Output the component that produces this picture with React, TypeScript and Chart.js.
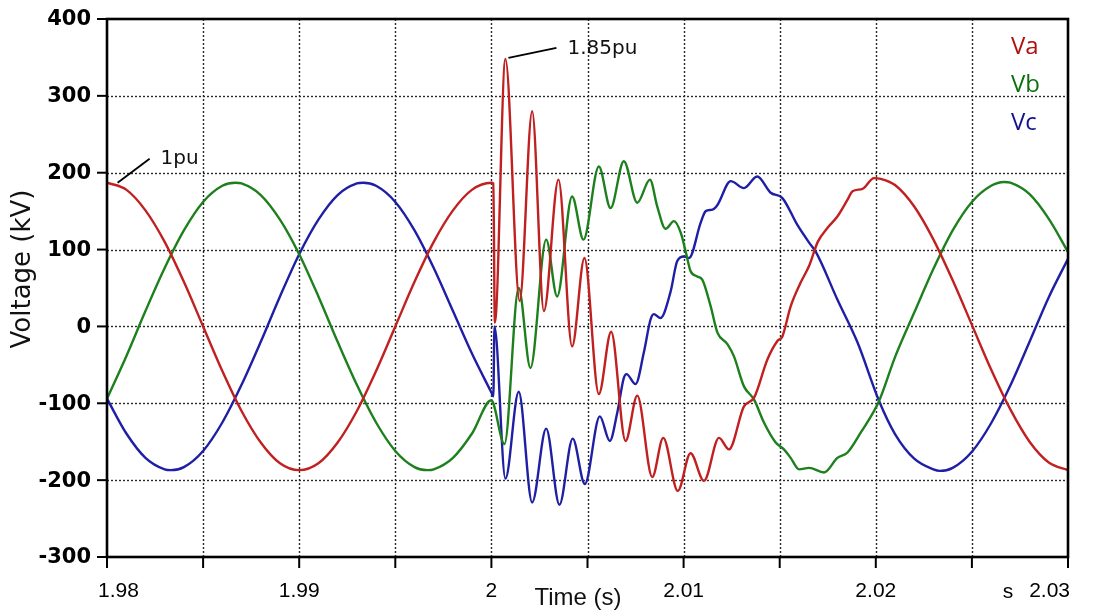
import React, { useEffect, useRef } from 'react';
import { Chart, registerables } from 'chart.js';

Chart.register(...registerables);

// Phase A voltage (kV) against time (s)
const vaTime = [
  1.98, 1.981, 1.982, 1.983, 1.984, 1.985, 1.986, 1.987, 1.988, 1.989, 1.99,
  1.991, 1.992, 1.993, 1.994, 1.995, 1.996, 1.997, 1.998, 1.999, 2.0, 2.0001,
  2.00018, 2.00073, 2.00147, 2.00212, 2.00273, 2.00349, 2.0042, 2.00484, 2.00559,
  2.00623, 2.00698, 2.00759, 2.00837, 2.00894, 2.0097, 2.01036, 2.01106, 2.01184,
  2.01236, 2.01314, 2.01366, 2.01436, 2.01488, 2.01514, 2.01557, 2.01609, 2.01655,
  2.01698, 2.01748, 2.018, 2.01853, 2.01879, 2.01931, 2.01991, 2.02026, 2.021,
  2.022, 2.023, 2.024, 2.025, 2.026, 2.027, 2.028, 2.029, 2.03,
];
const vaKv = [
  187, 178, 151, 110, 58, 0, -58, -110, -151, -178, -187,
  -178, -151, -110, -58, 0, 58, 110, 151, 178, 187, 186,
  5, 348, 33, 280, 20, 191, -26, 89, -88,
  -7, -149, -90, -196, -145, -214, -165, -201, -145,
  -160, -104, -93, -43, -19, -13, 26, 57, 80,
  110, 128, 143, 165, 176, 179, 193, 192, 184,
  156, 113, 60, 2, -56, -108, -150, -177, -187,
];

// Phase B voltage (kV) against time (s)
const vbTime = [
  1.98, 1.981, 1.982, 1.983, 1.984, 1.985, 1.986, 1.98667, 1.987, 1.988, 1.989,
  1.99, 1.991, 1.992, 1.993, 1.994, 1.995, 1.996, 1.99667, 1.997, 1.998, 1.999,
  2.0, 2.0001, 2.00068, 2.00142, 2.00203, 2.00285, 2.00342, 2.0042, 2.00479,
  2.00559, 2.0062, 2.00689, 2.00759, 2.00825, 2.00863, 2.00906, 2.0095, 2.00985,
  2.01013, 2.01036, 2.01071, 2.01097, 2.01141, 2.01176, 2.01228, 2.01262, 2.01314,
  2.01366, 2.01418, 2.01479, 2.01522, 2.01557, 2.01601, 2.01653, 2.01731, 2.018,
  2.01853, 2.01922, 2.02017, 2.021, 2.022, 2.023, 2.024, 2.025, 2.026, 2.02667,
  2.027, 2.028, 2.029, 2.03,
];
const vbKv = [
  -94, -39, 20, 76, 125, 162, 183, 187, 186, 171, 139,
  94, 39, -20, -76, -125, -162, -183, -187, -186, -171, -139,
  -96, -100, -153, 50, -54, 113, 39, 169, 113,
  208, 154, 215, 161, 191, 156, 127, 137, 122,
  95, 72, 65, 61, 26, -8, -23, -39, -78,
  -95, -125, -151, -160, -171, -186, -184, -190, -171,
  -164, -138, -97, -40, 18, 75, 125, 162, 183, 188,
  187, 172, 140, 97,
];

// Phase C voltage (kV) against time (s)
const vcTime = [
  1.98, 1.981, 1.982, 1.983, 1.98333, 1.984, 1.985, 1.986, 1.987, 1.988, 1.989,
  1.99, 1.991, 1.992, 1.993, 1.99333, 1.994, 1.995, 1.996, 1.997, 1.998, 1.999,
  2.0, 2.0001, 2.00016, 2.00073, 2.00142, 2.00212, 2.00285, 2.00354, 2.00423,
  2.00486, 2.00564, 2.00616, 2.00655, 2.00689, 2.00703, 2.0075, 2.00793, 2.00828,
  2.00845, 2.0088, 2.00932, 2.00967, 2.01002, 2.01028, 2.01089, 2.01115, 2.0115,
  2.01176, 2.01245, 2.01314, 2.01383, 2.01453, 2.01514, 2.01592, 2.01653, 2.01688,
  2.018, 2.01905, 2.02017, 2.021, 2.022, 2.023, 2.02333, 2.024, 2.025, 2.026,
  2.027, 2.028, 2.029, 2.03,
];
const vcKv = [
  -94, -139, -171, -186, -187, -183, -162, -125, -76, -20, 39,
  94, 139, 171, 186, 187, 183, 162, 125, 76, 20, -36,
  -86, -91, 0, -198, -85, -229, -133, -232, -146,
  -205, -117, -149, -112, -67, -62, -75, -34, 9,
  16, 11, 45, 85, 91, 89, 135, 150, 152,
  158, 189, 180, 195, 174, 167, 132, 109, 97,
  35, -21, -97, -140, -172, -186, -188, -184, -163, -126,
  -77, -20, 38, 88,
];

const seriesNames = ['Va', 'Vb', 'Vc'];
const lineColors = ['#c02020', '#1d801d', '#1f1fa6'];
const legendColors = ['#b00f0f', '#0e6f0e', '#12128f'];

const xTicks = [1.98, 1.985, 1.99, 1.995, 2.0, 2.005, 2.01, 2.015, 2.02, 2.025, 2.03];
const xTickLabels = ['1.98', '', '1.99', '', '2', '', '2.01', '', '2.02', '', '2.03'];
const yTicks = [-300, -200, -100, 0, 100, 200, 300, 400];

// peak markers: [time, kV, text]
const peakNotes: [number, number, string][] = [
  [1.9805, 187, '1pu'],
  [2.00073, 348, '1.85pu'],
];

const W = 1101;
const H = 611;

const framePlugin = {
  id: 'frame',
  beforeDatasetsDraw(chart: any) {
    const { ctx, chartArea: a, scales } = chart;
    const xs = scales.x;
    const ys = scales.y;
    ctx.save();
    ctx.strokeStyle = '#2a2a2a';
    ctx.lineWidth = 1.4;
    ctx.setLineDash([2, 2]);
    xTicks.slice(1, -1).forEach((v) => {
      const px = Math.round(xs.getPixelForValue(v)) + 0.5;
      ctx.beginPath();
      ctx.moveTo(px, a.top);
      ctx.lineTo(px, a.bottom);
      ctx.stroke();
    });
    yTicks.slice(1, -1).forEach((v) => {
      const py = Math.round(ys.getPixelForValue(v)) + 0.5;
      ctx.beginPath();
      ctx.moveTo(a.left, py);
      ctx.lineTo(a.right, py);
      ctx.stroke();
    });
    ctx.restore();
  },
  afterDatasetsDraw(chart: any) {
    const { ctx, chartArea: a, scales } = chart;
    const xs = scales.x;
    const ys = scales.y;
    ctx.save();
    ctx.setLineDash([]);
    ctx.strokeStyle = '#000';
    // tick marks
    ctx.lineWidth = 2;
    yTicks.forEach((v) => {
      const py = ys.getPixelForValue(v);
      ctx.beginPath();
      ctx.moveTo(a.left - 10, py);
      ctx.lineTo(a.left, py);
      ctx.stroke();
    });
    xTicks.forEach((v) => {
      const px = xs.getPixelForValue(v);
      ctx.beginPath();
      ctx.moveTo(px, a.bottom);
      ctx.lineTo(px, a.bottom + 11);
      ctx.stroke();
    });
    // frame
    ctx.lineWidth = 2.6;
    ctx.strokeRect(a.left, a.top, a.right - a.left, a.bottom - a.top);

    // tick labels
    ctx.fillStyle = '#000';
    ctx.textBaseline = 'middle';
    ctx.textAlign = 'right';
    ctx.font = 'bold 21px "DejaVu Sans", sans-serif';
    yTicks.forEach((v) => {
      ctx.fillText(String(v), a.left - 16, ys.getPixelForValue(v) + 1);
    });
    ctx.font = '21px "Liberation Sans", Arial, sans-serif';
    const last = xTicks.length - 1;
    xTicks.forEach((v, i) => {
      if (!xTickLabels[i]) return;
      let px = xs.getPixelForValue(v);
      ctx.textAlign = 'center';
      if (i === 0) {
        ctx.textAlign = 'left';
        px -= 9;
      } else if (i === last) {
        ctx.textAlign = 'right';
        px += 2;
      }
      ctx.fillText(xTickLabels[i], px, a.bottom + 34);
    });
    ctx.textAlign = 'center';
    ctx.fillText('s', 1008, a.bottom + 35);

    // peak annotations
    ctx.lineWidth = 1.8;
    ctx.fillStyle = '#111';
    ctx.font = '20px "DejaVu Sans", sans-serif';
    ctx.textAlign = 'left';
    peakNotes.forEach(([t, v, text], i) => {
      const px = xs.getPixelForValue(t);
      const py = ys.getPixelForValue(v);
      const x0 = px + (i === 0 ? 1 : 3);
      const y0 = py + (i === 0 ? 0 : -1);
      const x1 = px + (i === 0 ? 33 : 51);
      const y1 = py + (i === 0 ? -24 : -11);
      ctx.beginPath();
      ctx.moveTo(x0, y0);
      ctx.lineTo(x1, y1);
      ctx.stroke();
      ctx.fillText(text, x1 + 11, y1 + (i === 0 ? 0 : 1));
    });

    // series labels
    ctx.font = '24px "Open Sans", "Noto Sans", sans-serif';
    seriesNames.forEach((name, i) => {
      ctx.fillStyle = legendColors[i];
      ctx.fillText(name, 1011, 47 + i * 38);
    });

    // axis titles
    ctx.fillStyle = '#111';
    ctx.textAlign = 'center';
    ctx.font = '24px "Liberation Sans", Arial, sans-serif';
    ctx.fillText('Time (s)', 578, 598);
    ctx.font = '26px "DejaVu Sans", sans-serif';
    ctx.translate(23, 269);
    ctx.rotate(-Math.PI / 2);
    ctx.fillText('Voltage (kV)', 0, 0);
    ctx.restore();
  },
};

export default function App() {
  const ref = useRef<HTMLCanvasElement | null>(null);

  useEffect(() => {
    const canvas = ref.current;
    if (!canvas) return;
    const mk = (ts: number[], vs: number[]) => ts.map((t, i) => ({ x: t, y: vs[i] }));
    const series = [mk(vaTime, vaKv), mk(vbTime, vbKv), mk(vcTime, vcKv)];
    const chart = new Chart(canvas, {
      type: 'line',
      data: {
        datasets: series.map((d, i) => ({
          label: seriesNames[i],
          data: d,
          borderColor: lineColors[i],
          backgroundColor: lineColors[i],
          borderWidth: 2.4,
          pointRadius: 0,
          cubicInterpolationMode: 'monotone' as const,
          fill: false,
        })),
      },
      options: {
        animation: false,
        responsive: false,
        devicePixelRatio: 1,
        layout: { padding: { left: 0, right: 33, top: 19, bottom: 0 } },
        plugins: { legend: { display: false }, tooltip: { enabled: false } },
        scales: {
          x: {
            type: 'linear',
            min: 1.98,
            max: 2.03,
            afterBuildTicks: (s: any) => {
              s.ticks = xTicks.map((v) => ({ value: v }));
            },
            afterFit: (s: any) => {
              s.height = 54;
            },
            grid: { display: false, drawTicks: false },
            border: { display: false },
            ticks: { display: false },
          },
          y: {
            type: 'linear',
            min: -300,
            max: 400,
            afterBuildTicks: (s: any) => {
              s.ticks = yTicks.map((v) => ({ value: v }));
            },
            afterFit: (s: any) => {
              s.width = 107;
            },
            grid: { display: false, drawTicks: false },
            border: { display: false },
            ticks: { display: false },
          },
        },
      },
      plugins: [framePlugin],
    });
    return () => chart.destroy();
  }, []);

  return (
    <div style={{ position: 'absolute', left: 0, top: 0, width: W, height: H, background: '#fff' }}>
      <canvas ref={ref} width={W} height={H} style={{ display: 'block' }} />
    </div>
  );
}
